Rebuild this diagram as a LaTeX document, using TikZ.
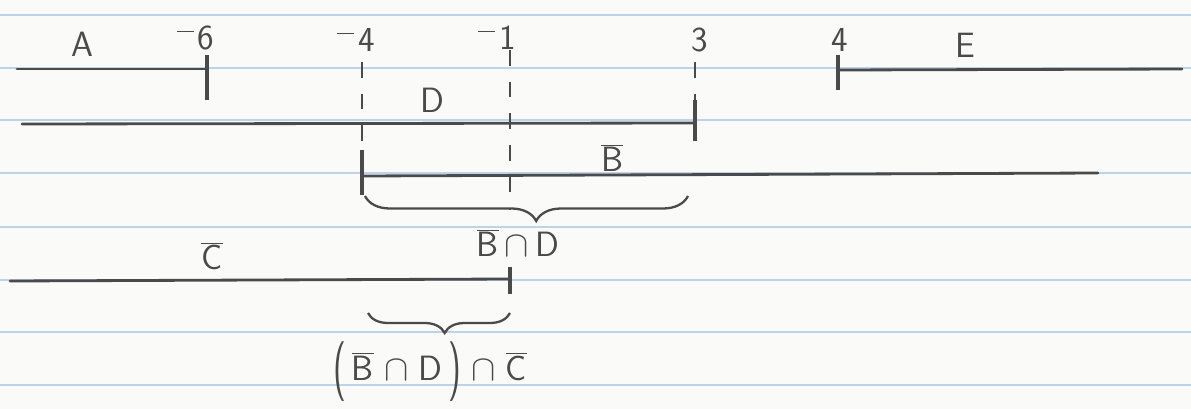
\documentclass[tikz,border=0pt]{standalone}
\usepackage{fontspec}
\usepackage{graphicx}
\usetikzlibrary{decorations.pathreplacing}
\definecolor{paper}{HTML}{FAFAF8}
\definecolor{rule}{HTML}{BCD3EA}
\definecolor{pencil}{HTML}{4A4A4A}
\newcommand{\obar}[1]{$\overline{\hbox{#1}}$}
\newcommand{\capsym}{$\,\cap\,$}
\newcommand{\negsign}{\raisebox{1.15ex}{\rule{0.34cm}{0.9pt}}\hspace{2pt}}
\newcommand{\bigparen}[1]{\raisebox{-0.45ex}{\scalebox{1}[1.7]{#1}}}
\tikzset{
  lab/.style={font=\sffamily\fontsize{20}{24}\selectfont, text=pencil, inner sep=1pt},
  seg/.style={draw=pencil, line width=1.6pt, line cap=round},
  tick/.style={draw=pencil, line width=2.2pt},
  guide/.style={draw=pencil, line width=0.9pt, dash pattern=on 9pt off 9pt},
  brc/.style={draw=pencil, line width=1.3pt, decorate},
}
\begin{document}
\begin{tikzpicture}[x=0.02cm, y=-0.02cm]
\useasboundingbox (0,0) rectangle (1191,409);
\fill[paper] (0,0) rectangle (1191,409);
\foreach \yy in {15,68,120,173,227,280,332,385}
  \draw[rule, line width=0.9pt] (0,\yy) -- (1191,\yy);

% number labels
\node[lab] (nA) at (82,44) {A};
\node[lab] (n6) at (196,38) {\negsign 6};
\node[lab] (n4) at (356,40) {\negsign 4};
\node[lab] (n1) at (497,38) {\negsign 1};
\node[lab] (n3) at (700,40) {3};
\node[lab] (n4p) at (840,40) {4};
\node[lab] (nE) at (965,45) {E};

% A
\coordinate (a0) at (17,69);
\coordinate (a1) at (207,69);
\draw[seg] (a0) -- (a1);
\draw[tick] (207,55) -- (207,100);

% E
\coordinate (e0) at (838,70);
\coordinate (e1) at (1182,69);
\draw[seg] (e0) -- (e1);
\draw[tick] (838,55) -- (838,90);

% D
\node[lab] (nD) at (432,100) {D};
\coordinate (d0) at (22,124);
\coordinate (d1) at (695,123);
\draw[seg] (d0) -- (d1);
\draw[tick] (695,100) -- (695,141);

% Bbar
\node[lab] (nB) at (612,158) {\obar{B}};
\coordinate (b0) at (362,176);
\coordinate (b1) at (1098,173);
\draw[seg] (b0) -- (b1);
\draw[tick] (362,150) -- (362,195);

% dashed guides
\draw[guide] (362,62) -- (362,150);
\draw[guide] (510,50) -- (510,210);
\draw[guide] (695,62) -- (695,100);

% brace B∩D
\coordinate (br0) at (365,196);
\coordinate (br1) at (688,196);
\draw[brc, decoration={brace, mirror, amplitude=0.5cm, aspect=0.53}] (br0) -- (br1);
\node[lab] (nBD) at (518,243) {\obar{B}\capsym D};

% Cbar
\node[lab] (nC) at (212,256) {\obar{C}};
\coordinate (c0) at (10,281);
\coordinate (c1) at (510,279);
\draw[seg] (c0) -- (c1);
\draw[tick] (510,267) -- (510,294);

% brace (B∩D)∩C
\coordinate (bb0) at (368,313);
\coordinate (bb1) at (510,313);
\draw[brc, decoration={brace, mirror, amplitude=0.4cm, aspect=0.54}] (bb0) -- (bb1);
\node[lab] (nBDC) at (430,372) {\bigparen{(}\,\obar{B}$\;\cap\;$D\,\bigparen{)}$\;\cap\;$\obar{C}};
\end{tikzpicture}
\end{document}
